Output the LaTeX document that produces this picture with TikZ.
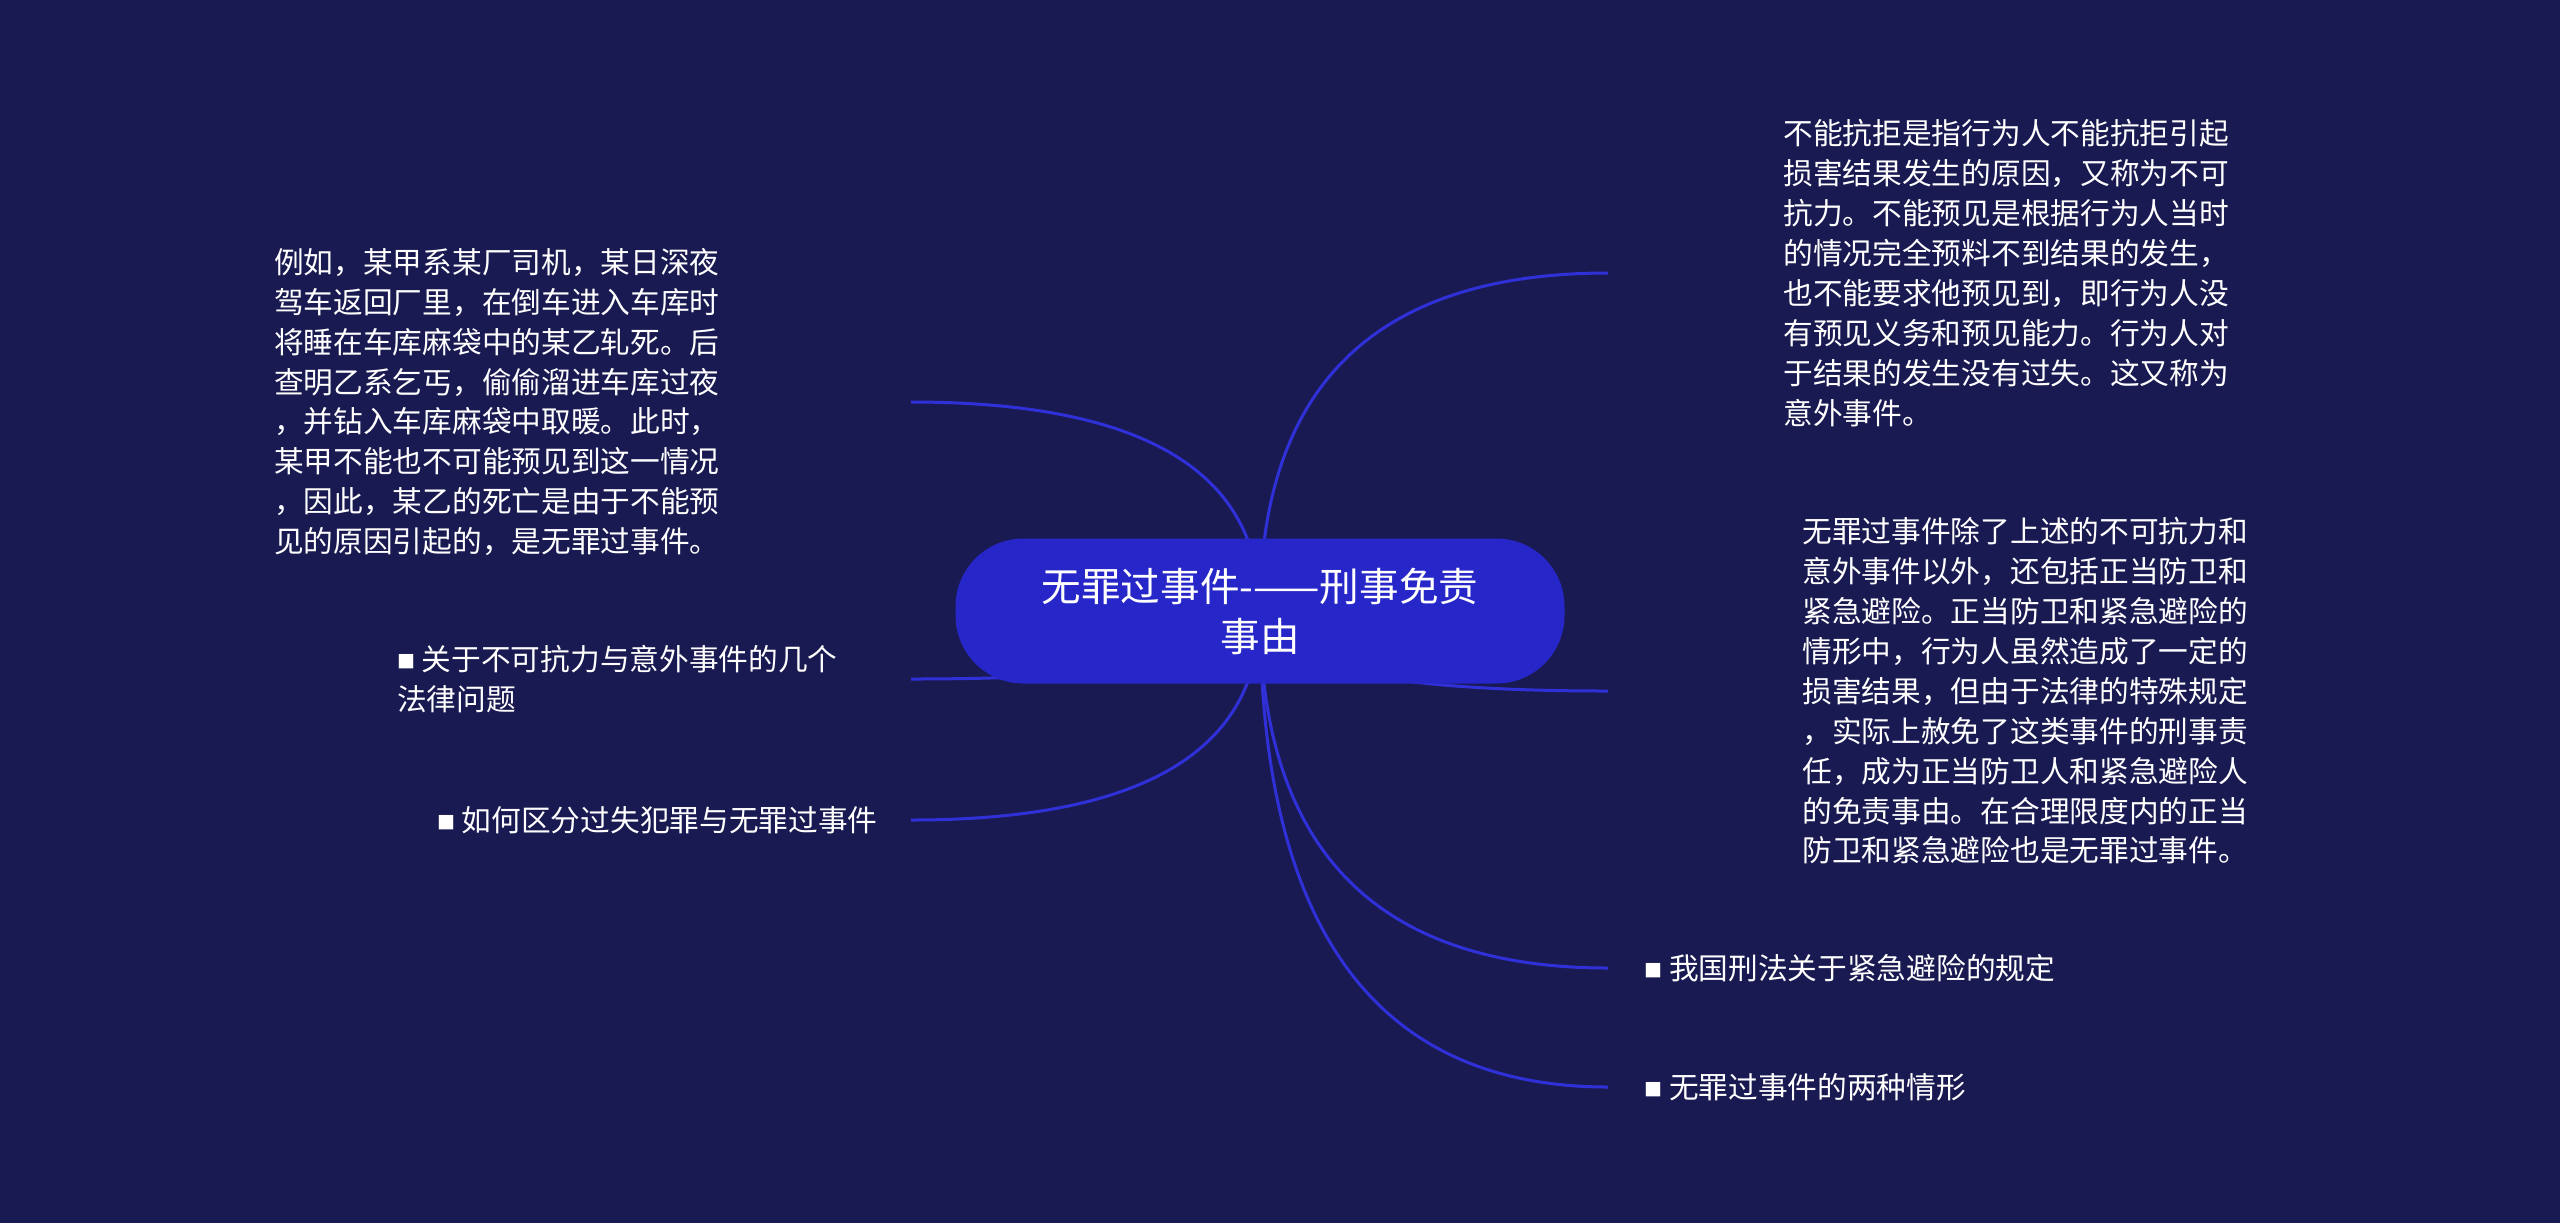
\documentclass[tikz,border=0pt]{standalone}
\usepackage{fontspec}
\setmainfont{Noto Sans CJK SC}
\usetikzlibrary{positioning, calc, backgrounds}

\definecolor{bgnavy}{HTML}{1A1A52}
\definecolor{hubblue}{HTML}{2727C9}
\definecolor{branchblue}{HTML}{3030D8}

\newcommand{\sqbullet}{{\fontsize{9pt}{9pt}\selectfont\raisebox{1pt}{■}}}

\begin{document}
\begin{tikzpicture}[
    x=0.5pt, y=-0.5pt,
    hub/.style={fill=hubblue, rounded corners=34pt, minimum width=304.5pt, minimum height=72.5pt,
                inner sep=0pt, text=white, align=center, font=\fontsize{19.8pt}{25pt}\selectfont},
    leaf/.style={inner sep=0pt, text=white, align=left, font=\fontsize{14.85pt}{19.95pt}\selectfont},
    branch/.style={draw=branchblue, line width=1.5pt},
]

\useasboundingbox (0,0) rectangle (2560,1223);

\node[hub] (root) at (1260,611) {无罪过事件-——刑事免责\\事由};

% branch ends
\coordinate (lt) at (911,402);
\coordinate (lm) at (911,679);
\coordinate (lb) at (911,820);
\coordinate (rt) at (1608,273);
\coordinate (rm) at (1608,691);
\coordinate (rl) at (1608,968);
\coordinate (rb) at (1608,1087);

% left side
\node[leaf, left=95.5pt of lt] (ltText) {例如，某甲系某厂司机，某日深夜\\驾车返回厂里，在倒车进入车库时\\将睡在车库麻袋中的某乙轧死。后\\查明乙系乞丐，偷偷溜进车库过夜\\，并钻入车库麻袋中取暖。此时，\\某甲不能也不可能预见到这一情况\\，因此，某乙的死亡是由于不能预\\见的原因引起的，是无罪过事件。};
\node[leaf, left=36.5pt of lm] (lmText) {\sqbullet\ 关于不可抗力与意外事件的几个\\法律问题};
\node[leaf, left=16.5pt of lb] (lbText) {\sqbullet\ 如何区分过失犯罪与无罪过事件};

% right side
\node[leaf, right=87.5pt of rt] (rtText) {不能抗拒是指行为人不能抗拒引起\\损害结果发生的原因，又称为不可\\抗力。不能预见是根据行为人当时\\的情况完全预料不到结果的发生，\\也不能要求他预见到，即行为人没\\有预见义务和预见能力。行为人对\\于结果的发生没有过失。这又称为\\意外事件。};
\node[leaf, right=97pt of rm] (rmText) {无罪过事件除了上述的不可抗力和\\意外事件以外，还包括正当防卫和\\紧急避险。正当防卫和紧急避险的\\情形中，行为人虽然造成了一定的\\损害结果，但由于法律的特殊规定\\，实际上赦免了这类事件的刑事责\\任，成为正当防卫人和紧急避险人\\的免责事由。在合理限度内的正当\\防卫和紧急避险也是无罪过事件。};
\node[leaf, right=18pt of rl] (rlText) {\sqbullet\ 我国刑法关于紧急避险的规定};
\node[leaf, right=18pt of rb] (rbText) {\sqbullet\ 无罪过事件的两种情形};

\begin{scope}[on background layer]
    \fill[bgnavy] (0,0) rectangle (2560,1223);
    \foreach \e in {lt, lm, lb, rt, rm, rl, rb}{
        \draw[branch] (root.center) .. controls ($(root.center)!0.667!(root.center |- \e)$)
            and ($(\e)!0.667!(root.center |- \e)$) .. (\e);
    }
\end{scope}

\end{tikzpicture}
\end{document}
